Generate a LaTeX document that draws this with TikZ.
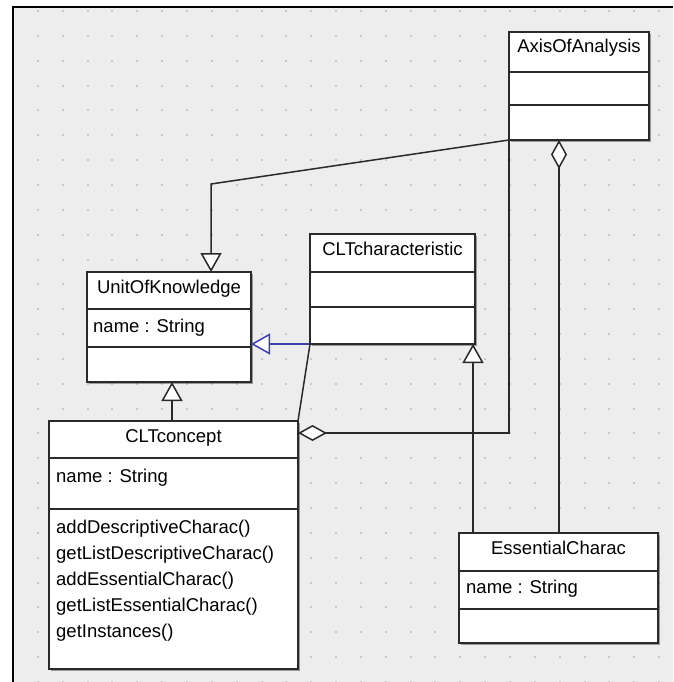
\documentclass[tikz,border=0pt]{standalone}
\usepackage{fontspec}
\setmainfont{Liberation Sans}
\usetikzlibrary{arrows.meta,calc,shadows}
\definecolor{umlbg}{HTML}{EDEDED}
\definecolor{umldot}{HTML}{C8C8C8}
\definecolor{umlline}{HTML}{2A2A2A}
\definecolor{umlblue}{HTML}{3F3FA8}
\newcommand{\umlfont}{\fontsize{18.5}{22}\selectfont}

\begin{document}
\begin{tikzpicture}[x=1pt, y=-1pt, font=\umlfont,
  cls/.style={rectangle, draw=umlline, line width=1.7pt, fill=white, inner sep=0pt, outer sep=0pt, anchor=north west,
    drop shadow={shadow xshift=1.6pt, shadow yshift=-1.6pt, fill=black, opacity=0.35}},
  ttl/.style={anchor=base, inner sep=0pt},
  attr/.style={anchor=base west, inner sep=0pt},
  div/.style={draw=umlline, line width=1.7pt},
  conn/.style={draw=umlline, line width=1.5pt},
  gen/.style={conn, -{Triangle[open, fill=white, length=19pt, width=21pt]}},
  agg/.style={conn, -{Diamond[open, fill=white, length=29pt, width=16pt]}}]
\useasboundingbox (0,0) rectangle (673,682);
\fill[white] (0,0) rectangle (673,682);
% canvas with dot grid
\fill[umlbg] (13,7.5) rectangle (673,682);
\foreach \i in {0,...,26}
  \foreach \j in {0,...,27}
    \fill[umldot] ({12+24.85*\i}, {10+24.85*\j}) rectangle ++(2,2);
\draw[line width=2pt] (13,682) -- (13,7.5) -- (673,7.5);

% classes
\node[cls, minimum width=140pt, minimum height=108pt] (axis) at (509,32) {};
\node[cls, minimum width=164pt, minimum height=110pt] (unit) at (87,272) {};
\node[cls, minimum width=165pt, minimum height=110pt] (char) at (310,234) {};
\node[cls, minimum width=249pt, minimum height=248pt] (concept) at (49,421) {};
\node[cls, minimum width=199pt, minimum height=110pt] (essen) at (459,533) {};
\foreach \n/\a/\b in {axis/72/105, unit/309/347, char/272/307, concept/458/509, essen/571/609} {
  \draw[div] (\n.west |- 0,\a) -- (\n.east |- 0,\a);
  \draw[div] (\n.west |- 0,\b) -- (\n.east |- 0,\b);
}

\node[ttl] (axis-t) at ($(axis.north)+(0,21)$) {AxisOfAnalysis};
\node[ttl] (unit-t) at ($(unit.north)+(0,21)$) {UnitOfKnowledge};
\node[ttl] (char-t) at ($(char.north)+(0,21)$) {CLTcharacteristic};
\node[ttl] (concept-t) at ($(concept.north)+(0,21)$) {CLTconcept};
\node[ttl] (essen-t) at ($(essen.north)+(0,21)$) {EssentialCharac};

\node[attr] (unit-a) at ($(unit.north west)+(6,60)$) {name : String};
\node[attr] (concept-a) at ($(concept.north west)+(7,61)$) {name : String};
\node[attr] (essen-a) at ($(essen.north west)+(7,60)$) {name : String};
\foreach \m [count=\i from 0] in {addDescriptiveCharac(), getListDescriptiveCharac(), addEssentialCharac(), getListEssentialCharac(), getInstances()}
  \node[attr] (concept-m\i) at ($(concept.north west)+(7,112+26.2*\i)$) {\m};

% relations
\coordinate (bendU) at (211,184);
\coordinate (bendC) at (509,433);
\coordinate (conceptG) at ($(concept.north)+(-1.5,0)$);
\coordinate (essenG) at ($(essen.north west)+(14,0)$);
\coordinate (essenA) at ($(essen.north)+(0.5,0)$);
\draw[gen] (axis.south west) -- (bendU) -- (bendU |- unit.north);
\draw[gen] (conceptG) -- (conceptG |- unit.south);
\draw[gen, draw=umlblue] (char.south west) -- (char.south west -| unit.east);
\draw[conn] (char.south west) -- (concept.north east);
\draw[agg] (axis.south west) -- (bendC) -- (bendC -| concept.east);
\draw[gen] (essenG) -- (essenG |- char.south);
\draw[agg] (essenA) -- (essenA |- axis.south);
\end{tikzpicture}
\end{document}
